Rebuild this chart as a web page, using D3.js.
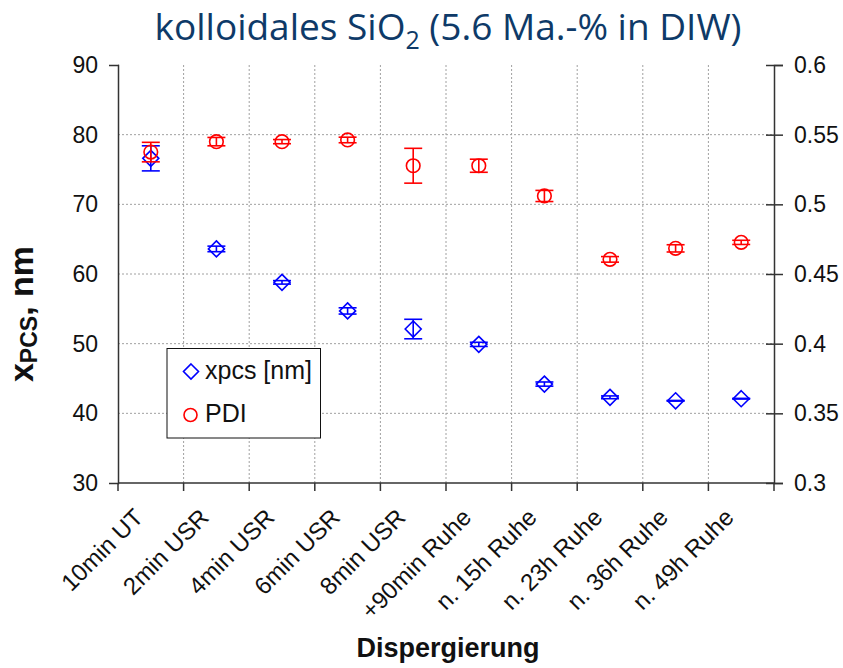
<!DOCTYPE html>
<html>
<head>
<meta charset="utf-8">
<script src="https://cdn.jsdelivr.net/npm/d3@7/dist/d3.min.js"></script>
<style>
  html, body { margin: 0; padding: 0; background: #fff; }
  svg { display: block; }
</style>
</head>
<body>
<svg id="chart" width="843" height="668"></svg>
<script>
// Dispersion steps (x categories)
const categories = ["10min UT", "2min USR", "4min USR", "6min USR", "8min USR",
  "+90min Ruhe", "n. 15h Ruhe", "n. 23h Ruhe", "n. 36h Ruhe", "n. 49h Ruhe"];

// Particle size x_PCS [nm] with standard deviation (left axis)
const xpcs    = [76.6, 63.6, 58.8, 54.7, 52.1, 49.9, 44.2, 42.3, 41.8, 42.1];
const xpcsErr = [1.8, 0.4, 0.25, 0.45, 1.4, 0.3, 0.3, 0.2, 0.05, 0.05];

// Polydispersity index with standard deviation (right axis)
const pdi    = [0.5375, 0.545, 0.545, 0.5462, 0.5277, 0.5277, 0.506, 0.4605, 0.4684, 0.4727];
const pdiErr = [0.007, 0.003, 0.0015, 0.002, 0.0125, 0.0047, 0.004, 0.002, 0.0026, 0.0015];

const leftTicks  = [30, 40, 50, 60, 70, 80, 90];
const rightTicks = [0.3, 0.35, 0.4, 0.45, 0.5, 0.55, 0.6];

const svg = d3.select("#chart");
const m = { left: 118, right: 774, top: 65, bottom: 483 };

const x = d3.scaleBand().domain(categories).range([m.left, m.right]).padding(0);
const yL = d3.scaleLinear().domain([30, 90]).range([m.bottom, m.top]);
const yR = d3.scaleLinear().domain([0.3, 0.6]).range([m.bottom, m.top]);

const FONT = "'Liberation Sans', Arial, sans-serif";

// Title
const title = svg.append("text")
  .attr("x", 448).attr("y", 40)
  .attr("text-anchor", "middle")
  .attr("font-family", "'Open Sans', 'Noto Sans', sans-serif")
  .attr("font-size", 37).attr("fill", "#0e3a68");
title.append("tspan").text("kolloidales SiO");
title.append("tspan").attr("font-size", 25).attr("dy", 9).text("2");
title.append("tspan").attr("dy", -9).text(" (5.6 Ma.-% in DIW)");

// Grid lines (dotted)
const grid = svg.append("g");
leftTicks.slice(1, -1).forEach(t => {
  grid.append("line")
    .attr("x1", m.left).attr("x2", m.right)
    .attr("y1", yL(t)).attr("y2", yL(t))
    .attr("stroke", "#a0a0a0").attr("stroke-width", 1).attr("stroke-dasharray", "2,2");
});
categories.slice(1).forEach(c => {
  grid.append("line")
    .attr("x1", x(c)).attr("x2", x(c))
    .attr("y1", m.top).attr("y2", m.bottom)
    .attr("stroke", "#a0a0a0").attr("stroke-width", 1).attr("stroke-dasharray", "2,2");
});

// Left axis
const axL = svg.append("g").attr("transform", `translate(${m.left},0)`)
  .call(d3.axisLeft(yL).tickValues(leftTicks).tickSize(9).tickPadding(11).tickFormat(d3.format("d")));
// Right axis
const axR = svg.append("g").attr("transform", `translate(${m.right},0)`)
  .call(d3.axisRight(yR).tickValues(rightTicks).tickSize(9).tickPadding(11).tickFormat(d => String(+d.toFixed(2))));
// Bottom axis (ticks at category boundaries)
const boundaries = categories.map(c => x(c)).concat([m.right]);
const axB = svg.append("g");
axB.append("line").attr("x1", m.left).attr("x2", m.right)
  .attr("y1", m.bottom).attr("y2", m.bottom).attr("stroke", "#333").attr("stroke-width", 1.5);
boundaries.forEach(b => {
  axB.append("line").attr("x1", b).attr("x2", b)
    .attr("y1", m.bottom).attr("y2", m.bottom + 8).attr("stroke", "#333").attr("stroke-width", 1.5);
});

[axL, axR].forEach(a => {
  a.select(".domain").attr("stroke", "#333").attr("stroke-width", 1.5);
  a.selectAll(".tick line").attr("stroke", "#333").attr("stroke-width", 1.5);
  a.selectAll(".tick text").attr("font-family", FONT).attr("font-size", 23).attr("fill", "#111");
});
// Right axis ticks extend on both sides of the line
axR.selectAll(".tick line").attr("x1", -8);
axL.selectAll(".tick line").attr("x2", 1);

// Category labels, rotated
svg.append("g").selectAll("text").data(categories).join("text")
  .attr("transform", d => `translate(${x(d) + x.bandwidth() / 2 - 18},${m.bottom + 24}) rotate(-45)`)
  .attr("text-anchor", "end")
  .attr("dy", "0.7em")
  .attr("font-family", FONT).attr("font-size", 24).attr("fill", "#111")
  .text(d => d);

// Axis titles
const yt = svg.append("text")
  .attr("transform", `translate(33,314) rotate(-90)`)
  .attr("text-anchor", "middle")
  .attr("font-family", FONT).attr("font-weight", "bold").attr("font-size", 34).attr("fill", "#111");
yt.append("tspan").text("x");
yt.append("tspan").attr("font-size", 23).attr("dy", 4).text("PCS");
yt.append("tspan").attr("dy", -4).text(", nm");

svg.append("text")
  .attr("x", 448).attr("y", 657)
  .attr("text-anchor", "middle")
  .attr("font-family", FONT).attr("font-weight", "bold").attr("font-size", 27).attr("fill", "#111")
  .text("Dispergierung");

// Error bars + markers
const cx = d => x(d) + x.bandwidth() / 2;
const cap = 9;

function drawSeries(vals, errs, yScale, color, shape) {
  const g = svg.append("g");
  vals.forEach((v, i) => {
    const c = cx(categories[i]);
    const y0 = yScale(v), yTop = yScale(v + errs[i]), yBot = yScale(v - errs[i]);
    g.append("line").attr("x1", c).attr("x2", c).attr("y1", yTop).attr("y2", yBot)
      .attr("stroke", color).attr("stroke-width", 1.6);
    [yTop, yBot].forEach(yy => g.append("line")
      .attr("x1", c - cap).attr("x2", c + cap).attr("y1", yy).attr("y2", yy)
      .attr("stroke", color).attr("stroke-width", 1.6));
    if (shape === "diamond") {
      const s = 8;
      g.append("path")
        .attr("d", `M${c},${y0 - s}L${c + s},${y0}L${c},${y0 + s}L${c - s},${y0}Z`)
        .attr("fill", "none").attr("stroke", color).attr("stroke-width", 1.6);
    } else {
      g.append("circle").attr("cx", c).attr("cy", y0).attr("r", 6.8)
        .attr("fill", "none").attr("stroke", color).attr("stroke-width", 1.6);
    }
  });
}
drawSeries(xpcs, xpcsErr, yL, "#0000ff", "diamond");
drawSeries(pdi, pdiErr, yR, "#ff0000", "circle");

// Legend
const lg = svg.append("g");
lg.append("rect").attr("x", 167).attr("y", 348.5).attr("width", 153.5).attr("height", 89.5)
  .attr("fill", "#fff").attr("stroke", "#111").attr("stroke-width", 1);
lg.append("path").attr("d", "M191,364L198.5,371.5L191,379L183.5,371.5Z")
  .attr("fill", "none").attr("stroke", "#0000ff").attr("stroke-width", 1.6);
lg.append("circle").attr("cx", 190.5).attr("cy", 415).attr("r", 6.5)
  .attr("fill", "none").attr("stroke", "#ff0000").attr("stroke-width", 1.6);
lg.append("text").attr("x", 205).attr("y", 379)
  .attr("font-family", FONT).attr("font-size", 25).attr("fill", "#111").text("xpcs [nm]");
lg.append("text").attr("x", 205).attr("y", 422)
  .attr("font-family", FONT).attr("font-size", 25).attr("fill", "#111").text("PDI");
</script>
</body>
</html>
